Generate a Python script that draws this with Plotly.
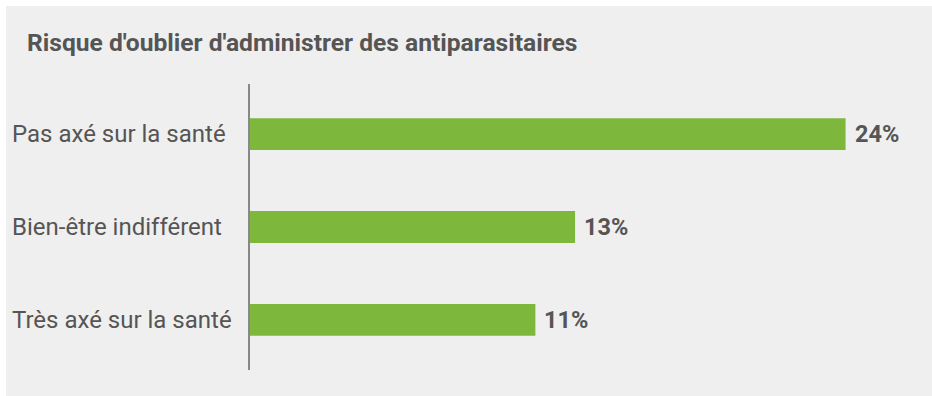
import plotly.graph_objects as go

categories = ["Pas axé sur la santé", "Bien-être indifférent", "Très axé sur la santé"]
values = [24, 13.1, 11.5]
value_labels = ["24%", "13%", "11%"]
title_text = "Risque d'oublier d'administrer des antiparasitaires"

W, H = 932, 396
ML, MR, MT, MB = 250, 12, 84, 26
XMAX = 27
pw = W - ML - MR
ph = H - MT - MB

BG = "#efefef"
TXT = "#555555"
BAR = "#7db83d"

fig = go.Figure()
fig.add_trace(go.Bar(
    x=values, y=categories, orientation="h",
    marker=dict(color=BAR, line=dict(width=0)),
    width=0.344, hoverinfo="skip",
))

annotations = []
for c, v, t in zip(categories, values, value_labels):
    annotations.append(dict(
        x=v, y=c, xref="x", yref="y", text=t, showarrow=False,
        xanchor="left", yanchor="middle", xshift=7,
        font=dict(family="Roboto", size=23.5, color=TXT, weight="bold"),
    ))
    annotations.append(dict(
        x=(12 - ML) / pw, y=c, xref="paper", yref="y", text=c, showarrow=False,
        xanchor="left", yanchor="middle", xshift=-2,
        font=dict(family="Roboto", size=24, color=TXT),
    ))

def px_x(p):
    return (p - ML) / pw

def px_y(p):
    return (H - MB - p) / ph

shapes = [
    dict(type="rect", xref="paper", yref="paper", x0=px_x(-5), x1=px_x(6),
         y0=px_y(H + 5), y1=px_y(-5), fillcolor="white", line=dict(width=0), layer="below"),
    dict(type="rect", xref="paper", yref="paper", x0=px_x(-5), x1=px_x(W + 5),
         y0=px_y(6), y1=px_y(-5), fillcolor="white", line=dict(width=0), layer="below"),
]

fig.update_layout(
    width=W, height=H,
    margin=dict(l=ML, r=MR, t=MT, b=MB, pad=0),
    paper_bgcolor=BG, plot_bgcolor=BG,
    showlegend=False,
    title=dict(text="<b>" + title_text + "</b>", xref="container", yref="container",
               x=27 / W, xanchor="left", y=1 - 42 / H, yanchor="middle",
               font=dict(family="Roboto", size=24.6, color=TXT)),
    xaxis=dict(range=[0, XMAX], visible=False, fixedrange=True),
    yaxis=dict(range=[2.54, -0.54], showticklabels=False, showgrid=False,
               zeroline=False, showline=True, linecolor="#888888", linewidth=2,
               ticks="", fixedrange=True),
    annotations=annotations,
    shapes=shapes,
)

fig.write_html(
    "out.html",
    config={"displayModeBar": False, "staticPlot": True},
    post_script="document.body.style.margin='0';document.body.style.padding='0';document.body.style.overflow='hidden';",
)
